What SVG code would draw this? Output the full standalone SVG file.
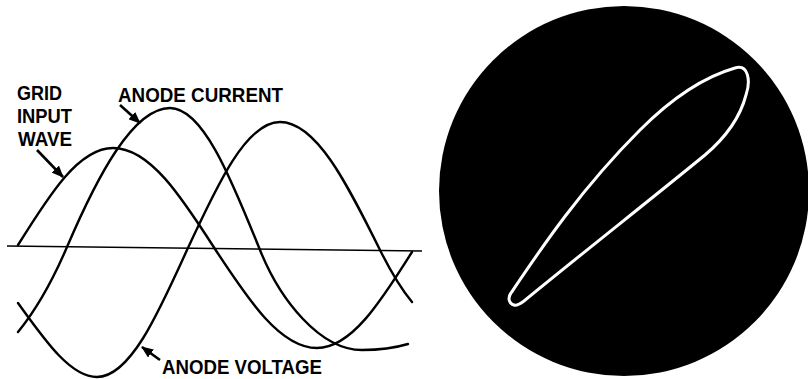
<svg xmlns="http://www.w3.org/2000/svg" width="808" height="379" viewBox="0 0 808 379">
<style>
.curve{fill:none;stroke:#000;stroke-width:2.4;stroke-linecap:round;stroke-linejoin:round}
.axis{fill:none;stroke:#000;stroke-width:1.5}
.arrow{fill:none;stroke:#000;stroke-width:2.6;marker-end:url(#ah)}
.lbl{font-family:"Liberation Sans",Arial,sans-serif;font-weight:bold;font-size:20px;fill:#000}
</style>
<defs>
<marker id="ah" markerUnits="userSpaceOnUse" markerWidth="12" markerHeight="10" refX="11" refY="5" orient="auto">
<path d="M0,0 L12,5 L0,10 Z" fill="#000"/>
</marker>
</defs>
<rect width="808" height="379" fill="#fff"/>
<g id="axis"><path class="axis" d="M7,246 L422,251"/></g>
<g id="grid-input-wave"><path class="curve" d="M18,245 C49.7,194.1 78.8,148 113,148 C149.7,148 180.9,196 215,249 C249.1,301 280.3,348 317,348 C351.2,348 380.3,302.4 412,252"/></g>
<g id="anode-voltage"><path class="curve" d="M18,303 C44,339 70,377 97,377 C129.4,377 156.9,316.7 187,250 C218.1,182.8 246.5,122 280,122 C316,122 346.6,182.8 380,250 C391,272 402,290 412,302"/></g>
<g id="anode-current"><path class="curve" d="M18,332 C36,310 52,282 67,247 C97,177 132.9,108 170,108 C202.4,108 230,175.5 260,250 C280,300 320,350 362,350 C385,350 398,347 408,344"/></g>
<g id="labels">
<text class="lbl" x="17" y="100" textLength="45" lengthAdjust="spacingAndGlyphs">GRID</text>
<text class="lbl" x="17" y="123" textLength="55" lengthAdjust="spacingAndGlyphs">INPUT</text>
<text class="lbl" x="18" y="146" textLength="54" lengthAdjust="spacingAndGlyphs">WAVE</text>
<text class="lbl" x="118" y="102" textLength="165" lengthAdjust="spacingAndGlyphs">ANODE CURRENT</text>
<text class="lbl" x="162" y="374" textLength="160" lengthAdjust="spacingAndGlyphs">ANODE VOLTAGE</text>
</g>
<g id="connectors">
<path class="arrow" d="M37,150 L63,177"/>
<path class="arrow" d="M120,105 L140,123"/>
<path class="arrow" d="M160,360 L142,347"/>
</g>
<g id="scope">
<circle cx="624" cy="191" r="185" fill="#000"/>
<path d="M514,305 C508,303 508,297 511,293 C540,250 580,190 640,130 C670,100 700,78 735,68 C748,64 751,80 746,95 C740,118 725,138 705,155 C650,200 580,255 524,301 C520,304 517,306 514,305 Z" fill="none" stroke="#fff" stroke-width="3"/>
</g>
</svg>
